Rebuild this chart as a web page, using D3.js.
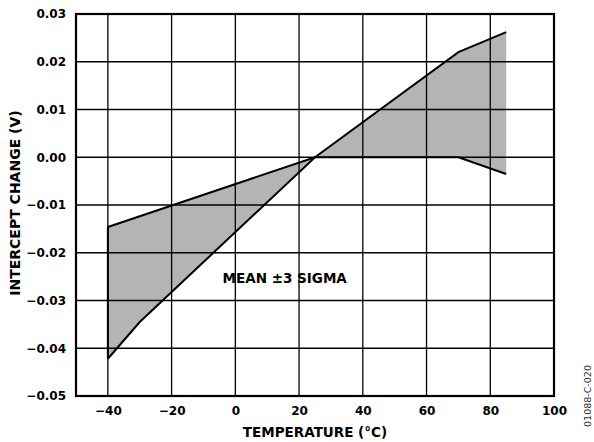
<html>
<head>
    <script src="https://d3js.org/d3.v7.min.js"></script>
    <style>
        body { margin: 0; background: #fff; }
        text { font-family: "DejaVu Sans", sans-serif; font-weight: bold; fill: #000; }
    </style>
</head>
<body>
    <svg id="chart" width="594" height="442"></svg>
    <script>
        // upper edge of the band (ends at +0.026)
        var temps_a = [-40, -30, 25, 70, 85];
        var vals_a = [-0.0422, -0.0345, 0.0, 0.0220, 0.0262];
        // other edge (ends at -0.0035)
        var temps_b = [-40, 25, 70, 85];
        var vals_b = [-0.0146, 0.0, 0.0, -0.0035];

        var xTicks = [-40, -20, 0, 20, 40, 60, 80, 100];
        var yTicks = [0.03, 0.02, 0.01, 0.00, -0.01, -0.02, -0.03, -0.04, -0.05];

        var svg = d3.select("#chart"),
            margin = { top: 14, right: 40, bottom: 46, left: 76 },
            width = 554 - margin.left,
            height = 396 - margin.top;

        var x = d3.scaleLinear().domain([-50, 100]).range([0, width]);
        var y = d3.scaleLinear().domain([-0.05, 0.03]).range([height, 0]);

        var g = svg.append("g")
            .attr("transform", "translate(" + margin.left + "," + margin.top + ")");

        // band polygon: edge a forward, edge b backward
        var band = [];
        temps_a.forEach(function (t, i) { band.push([t, vals_a[i]]); });
        for (var i = temps_b.length - 1; i >= 0; i--) band.push([temps_b[i], vals_b[i]]);

        var line = d3.line()
            .x(function (d) { return x(d[0]); })
            .y(function (d) { return y(d[1]); });

        g.append("path")
            .datum(band)
            .attr("fill", "#b4b4b4")
            .attr("stroke", "none")
            .attr("d", line);

        // grid
        g.selectAll(".vgrid")
            .data(xTicks)
            .enter().append("line")
            .attr("x1", function (d) { return x(d); })
            .attr("x2", function (d) { return x(d); })
            .attr("y1", 0).attr("y2", height)
            .attr("stroke", "#000").attr("stroke-width", 1.3);
        g.selectAll(".hgrid")
            .data(yTicks)
            .enter().append("line")
            .attr("x1", 0).attr("x2", width)
            .attr("y1", function (d) { return y(d); })
            .attr("y2", function (d) { return y(d); })
            .attr("stroke", "#000").attr("stroke-width", 1.3);

        // vertical left edge of the band
        g.append("line")
            .attr("x1", x(-40)).attr("x2", x(-40))
            .attr("y1", y(vals_a[0])).attr("y2", y(vals_b[0]))
            .attr("stroke", "#000").attr("stroke-width", 2);

        g.append("path")
            .datum(temps_a.map(function (t, i) { return [t, vals_a[i]]; }))
            .attr("fill", "none").attr("stroke", "#000").attr("stroke-width", 2)
            .attr("d", line);
        g.append("path")
            .datum(temps_b.map(function (t, i) { return [t, vals_b[i]]; }))
            .attr("fill", "none").attr("stroke", "#000").attr("stroke-width", 2)
            .attr("d", line);

        // frame
        g.append("rect")
            .attr("x", 0).attr("y", 0)
            .attr("width", width).attr("height", height)
            .attr("fill", "none").attr("stroke", "#000").attr("stroke-width", 2.2);

        // axes (labels only)
        var xAxis = g.append("g")
            .attr("transform", "translate(0," + height + ")")
            .call(d3.axisBottom(x).tickValues(xTicks).tickSize(0).tickPadding(10)
                .tickFormat(function (d) { return d < 0 ? "\u2212" + (-d) : d; }));
        xAxis.select(".domain").remove();
        xAxis.selectAll("text").style("font-size", "12px").attr("font-family", null);

        var yAxis = g.append("g")
            .call(d3.axisLeft(y).tickValues(yTicks).tickSize(0).tickPadding(10)
                .tickFormat(function (d) { var s = d3.format(".2f")(Math.abs(d)); return d < -1e-9 ? "\u2212" + s : s; }));
        yAxis.select(".domain").remove();
        yAxis.selectAll("text").style("font-size", "12px").attr("font-family", null);

        // axis titles
        svg.append("text")
            .attr("x", margin.left + width / 2)
            .attr("y", 437)
            .style("text-anchor", "middle")
            .style("font-size", "13.5px")
            .text("TEMPERATURE (\u00B0C)");

        svg.append("text")
            .attr("transform", "translate(20," + 203 + ") rotate(-90)")
            .style("text-anchor", "middle")
            .style("font-size", "14px")
            .text("INTERCEPT CHANGE (V)");

        g.append("text")
            .attr("x", x(-4))
            .attr("y", y(-0.0264))
            .style("font-size", "13.5px")
            .text("MEAN \u00B13 SIGMA");

        svg.append("text")
            .attr("transform", "translate(591,396) rotate(-90)")
            .style("text-anchor", "middle")
            .style("font-weight", "normal")
            .style("font-size", "9.5px")
            .style("fill", "#333")
            .text("01088-C-020");
    </script>
</body>
</html>
